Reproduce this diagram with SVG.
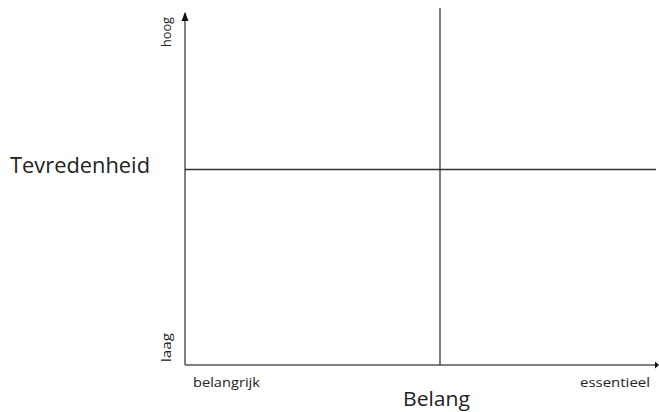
<svg xmlns="http://www.w3.org/2000/svg" width="659" height="412" viewBox="0 0 659 412">
<defs>
<style>
.ax{stroke:#555;stroke-width:1.5;fill:none}
.ln{stroke:#333;stroke-width:1.3;fill:none}
.t{font-family:"Open Sans","Liberation Sans",sans-serif;fill:#222}
</style>
<marker id="ah" viewBox="0 0 10 10" refX="9" refY="5" markerWidth="5" markerHeight="5" orient="auto" markerUnits="userSpaceOnUse">
<path d="M0,0 L10,5 L0,10 z" fill="#111"/>
</marker>
</defs>
<rect width="659" height="412" fill="#fff"/>
<g id="connectors">
<path class="ax" d="M185,365 L185,13"/>
<path d="M185,12 L181.5,21 L188.5,21 z" fill="#111"/>
<path class="ax" d="M185,365 L656,365"/>
<path d="M659,365 L655,361.5 L655,368.5 z" fill="#111"/>
<path class="ln" d="M440,8 L440,365"/>
<path class="ln" d="M185,169.5 L656,169.5"/>
</g>
<g id="label-y">
<text class="t" x="10" y="173" font-size="21" textLength="140" lengthAdjust="spacingAndGlyphs">Tevredenheid</text>
</g>
<g id="label-hoog">
<text class="t" transform="translate(171,47) rotate(-90)" font-size="12" textLength="30" lengthAdjust="spacingAndGlyphs">hoog</text>
</g>
<g id="label-laag">
<text class="t" transform="translate(171,362) rotate(-90)" font-size="12" textLength="29" lengthAdjust="spacingAndGlyphs">laag</text>
</g>
<g id="label-x">
<text class="t" x="403" y="406" font-size="20" textLength="67" lengthAdjust="spacingAndGlyphs">Belang</text>
</g>
<g id="label-belangrijk">
<text class="t" x="193" y="387" font-size="13" textLength="67" lengthAdjust="spacingAndGlyphs">belangrijk</text>
</g>
<g id="label-essentieel">
<text class="t" x="580" y="387" font-size="13" textLength="70" lengthAdjust="spacingAndGlyphs">essentieel</text>
</g>
</svg>
